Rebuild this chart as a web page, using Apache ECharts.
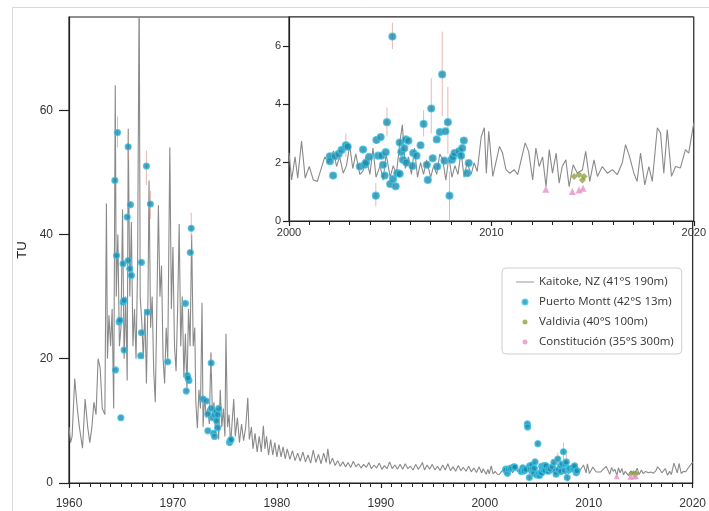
<!DOCTYPE html>
<html><head><meta charset="utf-8">
<script src="https://cdn.jsdelivr.net/npm/echarts@6/dist/echarts.min.js"></script>
<style>html,body{margin:0;padding:0;background:#fff}#c{width:709px;height:511px}</style>
</head><body><div id="c"></div>
<script>
// Kaitoke, NZ monthly-ish tritium record [year, TU]
const kaitoke = [
[1960.0,9],[1960.15,6.5],[1960.3,7.5],[1960.55,16.8],[1960.8,12],[1961.0,9],[1961.3,5.6],[1961.55,13.5],[1961.8,9],[1962.0,6.5],
[1962.2,9],[1962.4,13],[1962.6,11],[1962.8,20],[1963.0,18.5],[1963.2,12],[1963.45,11],[1963.6,45],[1963.7,20],[1963.85,27],
[1964.0,22],[1964.15,28],[1964.3,12],[1964.45,64],[1964.55,30],[1964.7,40],[1964.85,22],[1965.0,25],[1965.15,44],[1965.3,20],
[1965.45,30],[1965.6,16.5],[1965.7,57],[1965.85,30],[1966.0,42],[1966.15,22],[1966.3,28],[1966.45,20],[1966.6,35],[1966.75,80],
[1966.85,30],[1967.0,26],[1967.15,20],[1967.3,28],[1967.45,16],[1967.6,30],[1967.7,48.7],[1967.85,25],[1968.0,30],[1968.15,18],
[1968.3,13],[1968.45,28],[1968.6,44.7],[1968.75,30],[1968.9,35],[1969.05,20],[1969.2,16],[1969.35,25],[1969.5,20],[1969.7,54],
[1969.85,28],[1970.0,38],[1970.15,22],[1970.3,18],[1970.45,28],[1970.6,41.7],[1970.75,22],[1970.9,30],[1971.05,17],[1971.2,24],
[1971.35,15],[1971.5,28],[1971.65,22],[1971.8,40],[1971.95,22],[1972.1,25],[1972.2,13],[1972.35,8.8],[1972.5,15],[1972.65,12],
[1972.8,29],[1972.9,9],[1973.05,14],[1973.2,10.5],[1973.35,12],[1973.5,9.5],[1973.65,21],[1973.8,11],[1973.95,13],[1974.1,8],
[1974.25,12],[1974.4,7],[1974.55,15],[1974.7,9],[1974.85,12],[1975.0,7.5],[1975.1,24],[1975.25,9],[1975.4,11],[1975.55,6],
[1975.7,10],[1975.85,13.5],[1976.0,7.5],[1976.2,10.5],[1976.4,6.5],[1976.6,9.5],[1976.8,6.8],[1977.0,9],[1977.2,13.7],[1977.35,7],
[1977.55,9],[1977.7,5.5],[1977.9,8],[1978.1,5],[1978.3,7.5],[1978.5,5],[1978.7,9.2],[1978.85,5.5],[1979.0,7.5],[1979.2,4.5],
[1979.4,7],[1979.6,4.5],[1979.8,6.5],[1980.0,4.2],[1980.2,6.2],[1980.4,4.2],[1980.6,5.8],[1980.8,3.9],[1981.0,5.5],[1981.25,3.8],
[1981.5,5.2],[1981.75,3.6],[1982.0,4.8],[1982.25,3.5],[1982.5,5.0],[1982.75,3.4],[1983.0,4.5],[1983.25,3.2],[1983.5,5.3],[1983.75,3.3],
[1984.0,4.6],[1984.25,3.1],[1984.5,4.8],[1984.75,3.3],[1984.9,5.5],[1985.1,3.0],[1985.35,4.0],[1985.6,2.8],[1985.85,3.6],[1986.1,2.7],
[1986.35,3.4],[1986.6,2.6],[1986.85,3.3],[1987.1,2.5],[1987.35,3.5],[1987.6,2.6],[1987.85,3.1],[1988.1,2.4],[1988.35,3.0],[1988.6,2.5],
[1988.85,3.3],[1989.1,2.3],[1989.35,2.9],[1989.6,2.4],[1989.85,3.2],[1990.1,2.2],[1990.35,2.8],[1990.6,2.3],[1990.85,3.4],[1991.1,2.3],
[1991.35,2.9],[1991.6,2.2],[1991.85,3.0],[1992.1,2.2],[1992.35,3.1],[1992.6,2.3],[1992.85,2.7],[1993.1,2.1],[1993.35,3.0],[1993.6,2.2],
[1993.85,2.8],[1994.0,3.3],[1994.2,2.1],[1994.45,2.9],[1994.7,2.2],[1994.95,3.0],[1995.2,2.1],[1995.45,2.7],[1995.7,2.0],[1995.95,2.9],
[1996.2,2.1],[1996.45,3.1],[1996.7,2.0],[1996.95,2.6],[1997.2,1.9],[1997.45,2.8],[1997.7,2.0],[1997.95,2.5],[1998.2,1.9],[1998.45,2.7],
[1998.7,1.8],[1998.95,2.4],[1999.2,1.7],[1999.45,2.6],[1999.7,1.6],[1999.85,2.3],
[2000.0,2.33],[2000.13,1.41],[2000.3,2.2],[2000.43,1.47],[2000.62,2.74],[2000.8,1.47],[2001.0,1.87],[2001.2,1.41],[2001.4,1.36],[2001.6,1.82],
[2001.77,2.2],[2001.94,2.0],[2002.2,2.4],[2002.35,1.87],[2002.5,2.2],[2002.68,1.64],[2002.84,1.9],[2003.0,2.6],[2003.15,1.8],[2003.3,2.3],
[2003.5,1.6],[2003.65,1.7],[2003.8,2.2],[2004.0,1.6],[2004.15,2.5],[2004.3,1.5],[2004.5,1.9],[2004.65,1.4],[2004.8,2.3],[2005.0,1.5],
[2005.15,1.9],[2005.3,1.6],[2005.5,2.8],[2005.6,3.3],[2005.75,1.8],[2005.9,2.2],[2006.05,1.6],[2006.2,2.5],[2006.35,1.5],[2006.5,2.0],
[2006.65,1.6],[2006.8,2.1],[2007.0,1.5],[2007.15,1.9],[2007.3,1.6],[2007.45,2.3],[2007.6,2.1],[2007.75,1.4],[2007.9,2.2],[2008.05,1.5],
[2008.2,1.9],[2008.35,1.6],[2008.5,2.4],[2008.65,1.5],[2008.8,2.0],[2009.0,1.6],[2009.15,2.0],[2009.3,1.7],[2009.5,2.9],[2009.65,3.2],
[2009.75,1.64],[2009.87,3.08],[2010.07,1.53],[2010.4,2.56],[2010.55,2.33],[2010.72,1.76],[2010.9,1.64],[2011.13,1.76],[2011.3,1.59],[2011.67,2.68],
[2011.84,2.39],[2012.04,1.41],[2012.2,2.5],[2012.36,1.87],[2012.53,2.2],[2012.7,1.18],[2012.86,2.45],[2013.02,1.64],[2013.2,2.33],[2013.35,1.3],
[2013.5,1.87],[2013.68,2.1],[2013.84,1.18],[2014.04,1.93],[2014.25,1.64],[2014.5,1.76],[2014.66,2.39],[2014.86,1.36],[2015.07,2.1],[2015.24,1.53],
[2015.48,1.87],[2015.73,1.64],[2015.98,1.76],[2016.22,1.59],[2016.47,2.0],[2016.63,2.62],[2016.83,2.2],[2017.04,1.64],[2017.2,1.36],[2017.37,2.33],
[2017.58,1.24],[2017.78,1.87],[2017.95,1.36],[2018.2,3.2],[2018.36,3.02],[2018.52,1.64],[2018.69,3.14],[2018.9,1.53],[2019.1,1.87],[2019.34,1.82],
[2019.59,2.45],[2019.75,2.33],[2020.0,3.37]
];

// Puerto Montt samples [year, TU]
const puertoMontt = [
[1964.41,48.7],[1964.47,18.2],[1964.57,36.6],[1964.67,56.4],[1964.82,25.9],[1964.9,26.2],[1964.99,10.5],[1965.2,35.3],[1965.2,29.1],[1965.3,29.4],
[1965.3,21.4],[1965.6,42.8],[1965.69,54.1],[1965.7,35.8],[1965.85,34.5],[1965.91,44.8],[1966.0,33.4],[1966.9,20.5],[1966.97,24.2],[1966.97,35.5],
[1967.45,51.0],[1967.54,27.5],[1967.83,44.9],[1969.5,19.5],[1971.2,28.9],[1971.28,14.8],[1971.38,17.3],[1971.54,16.5],[1971.45,16.9],[1971.67,37.1],
[1971.76,41.0],[1972.88,13.5],[1973.2,13.2],[1973.36,11.1],[1973.36,8.4],[1973.68,19.3],[1973.68,12],[1973.8,10.5],[1973.9,8],[1974.0,11],
[1974.0,7.5],[1974.15,11.5],[1974.3,11],[1974.3,8.9],[1974.4,12],[1974.2,10],[1975.44,6.5],[1975.5,6.8],[1975.6,7.0],
[2002.02,2.22],[2002.02,2.05],[2002.18,1.56],[2002.27,2.22],[2002.45,2.3],[2002.6,2.44],[2002.81,2.6],[2002.9,2.55],[2003.5,1.87],[2003.66,2.45],
[2003.74,1.93],[2003.8,2.0],[2003.96,2.2],[2004.1,9.5],[2004.12,9.0],[2004.29,0.87],[2004.32,2.78],[2004.4,2.24],[2004.53,2.88],[2004.57,2.24],
[2004.65,1.93],[2004.73,1.56],[2004.78,2.36],[2004.84,3.39],[2005.0,1.27],[2005.11,6.33],[2005.14,1.44],[2005.27,1.19],[2005.35,1.64],[2005.47,1.62],
[2005.47,2.69],[2005.55,2.37],[2005.63,2.1],[2005.7,2.5],[2005.77,2.8],[2005.8,2.0],[2005.9,2.75],[2006.1,1.89],[2006.14,2.33],[2006.3,2.24],
[2006.5,2.6],[2006.65,3.33],[2006.81,1.93],[2006.86,1.41],[2007.03,3.86],[2007.1,2.15],[2007.3,2.8],[2007.32,1.87],[2007.45,3.05],[2007.57,5.03],
[2007.68,2.07],[2007.73,3.08],[2007.85,3.39],[2007.93,0.87],[2008.05,2.1],[2008.1,2.2],[2008.18,2.33],[2008.4,2.39],[2008.5,2.24],[2008.56,2.5],
[2008.64,2.76],[2008.8,1.64],[2008.88,1.99]
];
// Puerto Montt error bars [year, low, high]
const pmErrors = [
[1964.67,54,59],[1965.69,52,56],[1967.45,48,53.5],[1967.83,42.5,47],[1971.76,39,43.5],[1973.68,17.5,21],
[2002.81,2.2,3.0],[2004.29,0.5,1.3],[2004.84,2.9,3.9],[2005.11,5.9,6.8],[2006.65,2.9,3.8],[2007.03,3.0,4.9],
[2007.57,3.6,6.5],[2007.85,2.3,4.6],[2007.93,0.0,1.7],[2004.1,9.0,10.0]
];
// Valdivia samples [year, TU]
const valdivia = [[2014.09,1.53],[2014.33,1.59],[2014.5,1.41],[2014.58,1.53]];
// Constitución samples [year, TU]
const constitucion = [[2012.69,1.09],[2014.0,1.01],[2014.33,1.06],[2014.53,1.12]];

const mainXTicks = [1960,1970,1980,1990,2000,2010,2020];
const mainYTicks = [0,20,40,60];
const insetXTicks = [2000,2010,2020];
const insetYTicks = [0,2,4,6];

const NAMES = ['Kaitoke, NZ (41°S 190m)','Puerto Montt (42°S 13m)','Valdivia (40°S 100m)','Constitución (35°S 300m)'];
const FONT = 'Liberation Sans, Arial, sans-serif';
const AX = '#222';

function xAxisCfg(grid, min, max, ticks, fs, margin){
  return {gridIndex:grid,type:'value',min:min,max:max,interval:10,
    axisLine:{show:true,onZero:false,lineStyle:{color:AX,width:1.2}},
    axisTick:{show:true,length:5,lineStyle:{color:AX,width:1.2},customValues:ticks},
    minorTick:{show:true,splitNumber:10,length:4,lineStyle:{color:AX,width:1}},
    axisLabel:{fontSize:fs,color:'#333',fontFamily:FONT,margin:margin,customValues:ticks,formatter:v=>String(v)},
    splitLine:{show:false},minorSplitLine:{show:false}};
}
function yAxisCfg(grid, min, max, ticks, fs, tl, margin, extra){
  return Object.assign({gridIndex:grid,type:'value',min:min,max:max,
    axisLine:{show:true,onZero:false,lineStyle:{color:AX,width:1.2}},
    axisTick:{show:true,length:tl,lineStyle:{color:AX,width:1.2},customValues:ticks},
    axisLabel:{fontSize:fs,color:'#333',fontFamily:FONT,margin:margin,customValues:ticks,formatter:v=>String(v)},
    splitLine:{show:false}}, extra||{});
}
function errSeries(xi, yi, z){
  return {type:'custom',xAxisIndex:xi,yAxisIndex:yi,z:z,silent:true,clip:true,
    data:pmErrors,
    renderItem:function(params, api){
      const p1 = api.coord([api.value(0), api.value(1)]);
      const p2 = api.coord([api.value(0), api.value(2)]);
      return {type:'line',shape:{x1:p1[0],y1:p1[1],x2:p2[0],y2:p2[1]},
        style:{stroke:'rgba(225,160,150,0.75)',lineWidth:1}};
    },
    encode:{x:0,y:[1,2]}};
}
const pmStyle = {color:'#1f88a8',borderColor:'#3cc3e6',borderWidth:1.2};

const chart = echarts.init(document.getElementById('c'), null, {renderer:'canvas'});
chart.setOption({
  animation:false,
  backgroundColor:'#fff',
  textStyle:{fontFamily:FONT},
  graphic:[{type:'rect',z:-10,silent:true,shape:{x:12.5,y:7.5,width:760,height:560},style:{fill:'none',stroke:'#d9d9d9',lineWidth:1}}],
  grid:[
    {left:69,top:17,right:14,bottom:28,show:true,borderColor:AX,borderWidth:1.2,backgroundColor:'rgba(0,0,0,0)'},
    {left:289,top:17,right:14,bottom:290,show:true,borderColor:AX,borderWidth:1.2,backgroundColor:'#fff',z:5}
  ],
  xAxis:[xAxisCfg(0,1960,2020,mainXTicks,12,15), Object.assign(xAxisCfg(1,2000,2020,insetXTicks,11,6),{z:6})],
  yAxis:[
    yAxisCfg(0,0,75,mainYTicks,12,10,16,{name:'TU',nameLocation:'middle',nameGap:40,nameRotate:90,nameTextStyle:{fontSize:13,color:'#222',fontFamily:FONT}}),
    yAxisCfg(1,0,7,insetYTicks,11,6,8,{z:6})
  ],
  legend:{
    left:502,top:268,orient:'vertical',itemGap:6,itemWidth:18,itemHeight:5,
    padding:[7,8,5,14],borderColor:'#cfcfcf',borderWidth:1,borderRadius:4,backgroundColor:'#fff',
    textStyle:{fontSize:11.5,color:'#333',fontFamily:'Open Sans, sans-serif',lineHeight:14},
    data:[{name:NAMES[0],icon:'path://M0,0L20,0L20,1L0,1Z',itemStyle:{color:'#8c8c8c'}},
          {name:NAMES[1],icon:'circle'},{name:NAMES[2],icon:'circle'},{name:NAMES[3],icon:'circle'}]
  },
  series:[
    {name:NAMES[0],type:'line',xAxisIndex:0,yAxisIndex:0,data:kaitoke,symbol:'none',z:2,clip:true,
      lineStyle:{color:'#8a8a8a',width:1.1},itemStyle:{color:'#8a8a8a'}},
    errSeries(0,0,3),
    {name:NAMES[1],type:'scatter',xAxisIndex:0,yAxisIndex:0,data:puertoMontt,symbolSize:6,z:4,itemStyle:pmStyle},
    {name:NAMES[2],type:'scatter',xAxisIndex:0,yAxisIndex:0,data:valdivia,symbol:'diamond',symbolSize:6,z:4,itemStyle:{color:'#8fa23e'}},
    {name:NAMES[3],type:'scatter',xAxisIndex:0,yAxisIndex:0,data:constitucion,symbol:'triangle',symbolSize:6,z:4,itemStyle:{color:'#e592c6'}},
    {name:NAMES[0],type:'line',xAxisIndex:1,yAxisIndex:1,data:kaitoke,symbol:'none',z:7,clip:true,
      lineStyle:{color:'#8a8a8a',width:1.1},itemStyle:{color:'#8a8a8a'}},
    errSeries(1,1,8),
    {name:NAMES[1],type:'scatter',xAxisIndex:1,yAxisIndex:1,data:puertoMontt,symbolSize:7,z:9,clip:true,itemStyle:pmStyle},
    {name:NAMES[2],type:'scatter',xAxisIndex:1,yAxisIndex:1,data:valdivia,symbol:'diamond',symbolSize:7,z:9,itemStyle:{color:'#8fa23e'}},
    {name:NAMES[3],type:'scatter',xAxisIndex:1,yAxisIndex:1,data:constitucion,symbol:'triangle',symbolSize:7,z:9,itemStyle:{color:'#e592c6'}}
  ]
});
</script></body></html>
